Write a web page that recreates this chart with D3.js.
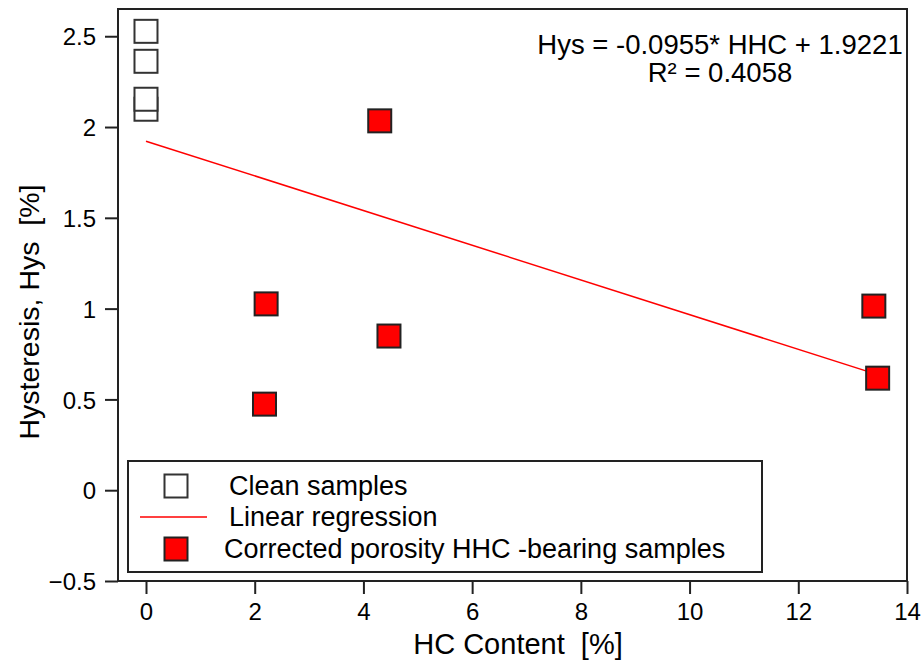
<!DOCTYPE html>
<html lang="en">
<head>
<meta charset="UTF-8">
<title>Hysteresis vs HC content</title>
<script src="https://cdn.jsdelivr.net/npm/d3@7"></script>
<style>
    body { margin: 0; background: #fff; }
    svg text { font-family: 'Liberation Sans', Arial, sans-serif; fill: #000; }
    .axis path { display: none; }
    .axis line { stroke: #222; stroke-width: 2; }
    .axis text { font-size: 24px; }
</style>
</head>
<body>
<div id="container"></div>
<script>
// clean samples (hollow squares), all at HC = 0
var cleanX = [0, 0, 0, 0]
var cleanY = [2.527, 2.362, 2.098, 2.153]
// corrected porosity HHC-bearing samples
var hhcX = [4.30, 2.21, 4.47, 2.18, 13.39, 13.46]
var hhcY = [2.034, 1.026, 0.849, 0.474, 1.014, 0.617]
// regression
var slope = -0.0955
var intercept = 1.9221
var eqLines = ["Hys = -0.0955* HHC + 1.9221", "R\u00b2 = 0.4058"]
var xTicks = [0, 2, 4, 6, 8, 10, 12, 14]
var yTicks = [-0.5, 0, 0.5, 1, 1.5, 2, 2.5]
var legendLabels = ["Clean samples", "Linear regression", "Corrected porosity HHC -bearing samples"]

let width = 922
let height = 666
let pLeft = 118, pRight = 907, pTop = 9, pBottom = 581

let svg = d3.select("#container")
    .append("svg")
    .attr("width", width)
    .attr("height", height)

let xScale = d3.scaleLinear().domain([-0.515, 14]).range([pLeft, pRight])
let yScale = d3.scaleLinear().domain([-0.5, 2.65]).range([pBottom, pTop])

// axes
let xAxis = d3.axisBottom(xScale).tickValues(xTicks).tickSize(13).tickPadding(9)
    .tickFormat(d3.format("d"))
let yAxis = d3.axisLeft(yScale).tickValues(yTicks).tickSize(13).tickPadding(9)
    .tickFormat(d => d3.format("")(d))

svg.append("g").attr("class", "axis")
    .attr("transform", "translate(0," + pBottom + ")")
    .call(xAxis)
svg.append("g").attr("class", "axis")
    .attr("transform", "translate(" + pLeft + ",0)")
    .call(yAxis)
    .selectAll("text").attr("dy", "0.36em")

// frame
svg.append("rect")
    .attr("x", pLeft).attr("y", pTop)
    .attr("width", pRight - pLeft).attr("height", pBottom - pTop)
    .attr("fill", "none").attr("stroke", "#222").attr("stroke-width", 2)

// regression line
let xMax = d3.max(hhcX)
svg.append("line")
    .attr("x1", xScale(0)).attr("y1", yScale(intercept))
    .attr("x2", xScale(xMax)).attr("y2", yScale(intercept + slope * xMax))
    .attr("stroke", "red").attr("stroke-width", 1.5)

let sq = 23

// clean samples
svg.selectAll(".clean")
    .data(cleanY)
    .enter()
    .append("rect")
    .attr("class", "clean")
    .attr("x", (d, i) => xScale(cleanX[i]) - sq / 2)
    .attr("y", d => yScale(d) - sq / 2)
    .attr("width", sq).attr("height", sq)
    .attr("fill", "#fff").attr("stroke", "#333").attr("stroke-width", 2)

// HHC-bearing samples
svg.selectAll(".hhc")
    .data(hhcY)
    .enter()
    .append("rect")
    .attr("class", "hhc")
    .attr("x", (d, i) => xScale(hhcX[i]) - sq / 2)
    .attr("y", d => yScale(d) - sq / 2)
    .attr("width", sq).attr("height", sq)
    .attr("fill", "#ff0000").attr("stroke", "#222").attr("stroke-width", 2)

// equation
svg.selectAll(".eq")
    .data(eqLines)
    .enter()
    .append("text")
    .attr("class", "eq")
    .attr("x", 720)
    .attr("y", (d, i) => 54 + i * 28)
    .attr("text-anchor", "middle")
    .style("font-size", "27.5px")
    .text(d => d)

// axis titles
svg.append("text")
    .attr("x", 518).attr("y", 654)
    .attr("text-anchor", "middle")
    .attr("xml:space", "preserve")
    .style("font-size", "29px")
    .text("HC Content  [%]")
svg.append("text")
    .attr("transform", "translate(39,312) rotate(-90)")
    .attr("text-anchor", "middle")
    .attr("xml:space", "preserve")
    .style("font-size", "28.5px")
    .text("Hysteresis, Hys  [%]")

// legend
let lg = svg.append("g")
lg.append("rect")
    .attr("x", 128).attr("y", 461).attr("width", 634).attr("height", 111)
    .attr("fill", "#fff").attr("stroke", "#222").attr("stroke-width", 2)
let rowY = [486, 517, 549]
lg.append("rect")
    .attr("x", 176 - sq / 2).attr("y", rowY[0] - sq / 2).attr("width", sq).attr("height", sq)
    .attr("fill", "#fff").attr("stroke", "#333").attr("stroke-width", 2)
lg.append("line")
    .attr("x1", 140).attr("x2", 207).attr("y1", rowY[1]).attr("y2", rowY[1])
    .attr("stroke", "red").attr("stroke-width", 1.5)
lg.append("rect")
    .attr("x", 176 - sq / 2).attr("y", rowY[2] - sq / 2).attr("width", sq).attr("height", sq)
    .attr("fill", "#ff0000").attr("stroke", "#222").attr("stroke-width", 2)
lg.selectAll(".lt")
    .data(legendLabels)
    .enter()
    .append("text")
    .attr("class", "lt")
    .attr("x", (d, i) => i == 2 ? 224 : 229)
    .attr("y", (d, i) => rowY[i] + 9)
    .style("font-size", "27px")
    .text(d => d)
</script>
</body>
</html>
